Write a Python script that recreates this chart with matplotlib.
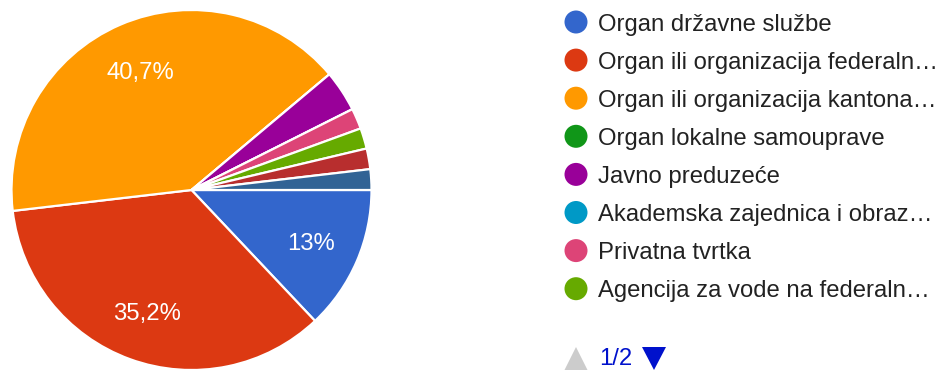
import matplotlib
matplotlib.use("Agg")
import matplotlib.pyplot as plt
from matplotlib.patches import Circle, Polygon

# Response counts per organisation type (all ten answer options)
categories = [
    "Organ državne službe",
    "Organ ili organizacija federaln…",
    "Organ ili organizacija kantona…",
    "Organ lokalne samouprave",
    "Javno preduzeće",
    "Akademska zajednica i obraz…",
    "Privatna tvrtka",
    "Agencija za vode na federaln…",
    "Ostalo 1",
    "Ostalo 2",
]
counts = [7, 19, 22, 0, 2, 0, 1, 1, 1, 1]
colors = ["#3366cc", "#dc3912", "#ff9900", "#109618", "#990099",
          "#0099c6", "#dd4477", "#66aa00", "#b82e2e", "#316395"]
legend_items = 8  # entries shown on the first legend page
page_label = "1/2"

W, H = 941, 370
fig = plt.figure(figsize=(W / 100, H / 100), dpi=100)
ax = fig.add_axes([0, 0, 1, 1])

font = "Liberation Sans"
fs = 17.2


def pct_label(p):
    if p < 5:
        return ""
    v = round(p, 1)
    s = f"{v:.0f}" if abs(v - round(v)) < 1e-9 else f"{v:.1f}".replace(".", ",")
    return s + "%"


wedges, texts, autotexts = ax.pie(
    counts, colors=colors, startangle=0, counterclock=False,
    center=(191.5, H - 190), radius=180, autopct=pct_label,
    pctdistance=0.72, frame=True,
    wedgeprops=dict(edgecolor="white", linewidth=1.6),
    textprops=dict(color="white", fontsize=fs, family=font),
)
for t in autotexts:
    t.set_va("center_baseline")
ax.set_xlim(0, W)
ax.set_ylim(0, H)
ax.set_aspect("equal")
ax.axis("off")

# Legend (first page)
y0, dy = 22, 38.1
for i in range(legend_items):
    y = H - (y0 + i * dy)
    ax.add_patch(Circle((576, y), 11.5, color=colors[i], lw=0))
    ax.text(598, y, categories[i], fontsize=fs, family=font,
            color="#222222", va="center_baseline", ha="left")

# Pager
ax.add_patch(Polygon([(564, H - 371), (588, H - 371), (576, H - 347)],
                     closed=True, color="#cccccc", lw=0))
ax.text(599, H - 356.5, page_label, fontsize=fs, family=font, color="#0011cc",
        va="center_baseline", ha="left")
ax.add_patch(Polygon([(642, H - 347), (666, H - 347), (654, H - 370)],
                     closed=True, color="#0011cc", lw=0))

fig.savefig("out.png", dpi=100)
